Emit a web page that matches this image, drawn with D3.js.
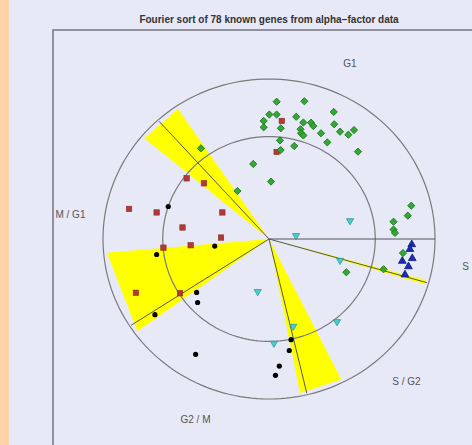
<!DOCTYPE html>
<html><head><meta charset="utf-8">
<script src="https://cdn.jsdelivr.net/npm/d3@7"></script>
<style>html,body{margin:0;padding:0;background:#e7e9f7;}svg{display:block;}</style>
</head><body>
<svg id="chart" width="472" height="445"></svg>
<script>
const title = "Fourier sort of 78 known genes from alpha\u2212factor data";
const phaseLabels = ["G1", "S", "S / G2", "G2 / M", "M / G1"];
const ringRadii = [1, 0.64];
// phase reference lines (degrees) and wedges [from, to]
const phaseLines = [0, 132, 213, 283.3, 344];
const wedges = [[124, 140], [185, 216], [281, 296.4], [343.2, 344.8]];

const g1Points = [[0.046,0.858],[0.213,0.861],[0.002,0.778],[0.046,0.778],[-0.032,0.738],[-0.032,0.698],
 [0.071,0.692],[0.164,0.764],[0.207,0.728],[0.253,0.727],[0.267,0.706],[0.190,0.686],[0.193,0.661],
 [0.207,0.647],[0.313,0.661],[0.390,0.794],[0.393,0.717],[0.428,0.671],[0.478,0.652],[0.512,0.681],
 [0.351,0.604],[0.536,0.546],[0.066,0.616],[0.070,0.556],[0.152,0.581],[-0.095,0.469],[0.012,0.359],
 [-0.410,0.567],[-0.190,0.300],[0.857,0.208],[0.836,0.146],[0.750,0.108],[0.750,0.059],[0.759,0.038],
 [0.807,-0.088],[0.690,-0.189],[0.466,-0.208]];
const mg1Points = [[0.077,0.738],[0.046,0.544],[-0.496,0.379],[-0.392,0.348],[-0.843,0.188],[-0.677,0.166],
 [-0.281,0.166],[-0.521,0.072],[-0.289,0.009],[-0.472,-0.039],[-0.636,-0.054],[-0.802,-0.336],[-0.536,-0.339]];
const g2mPoints = [[-0.607,0.203],[-0.327,-0.044],[-0.677,-0.097],[-0.436,-0.334],[-0.430,-0.397],
 [-0.687,-0.473],[-0.442,-0.721],[0.133,-0.629],[0.122,-0.697],[0.062,-0.794],[0.039,-0.852]];
const sg2Points = [[0.488,0.114],[0.163,0.021],[0.428,-0.134],[-0.068,-0.329],[0.146,-0.546],[0.410,-0.517],[0.030,-0.652]];
const sPoints = [[0.860,-0.034],[0.849,-0.064],[0.863,-0.121],[0.803,-0.138],[0.840,-0.172],[0.819,-0.223]];

const svg = d3.select("#chart");
const W = 472, H = 445;
svg.append("rect").attr("width", W).attr("height", H).attr("fill", "#e7e9f7");
svg.append("rect").attr("width", 9).attr("height", H).attr("fill", "#ffd4a6");

// plot frame
svg.append("rect").attr("x", 53).attr("y", 30).attr("width", 500).attr("height", 500)
  .attr("fill", "none").attr("stroke", "#7c7c8a").attr("stroke-width", 1.6);

svg.append("text").attr("x", 269).attr("y", 23).attr("text-anchor", "middle")
  .attr("font-family", "Liberation Sans, Arial, sans-serif").attr("font-size", 10)
  .attr("font-weight", "bold").attr("fill", "#333").text(title);

const x = d3.scaleLinear().domain([-1, 1]).range([103, 435]);
const y = d3.scaleLinear().domain([-1, 1]).range([399, 79]);
const rad = d => d * Math.PI / 180;
const pt = (a, r) => [x(r * Math.cos(rad(a))), y(r * Math.sin(rad(a)))];

// wedges
svg.append("g").selectAll("path").data(wedges).join("path")
  .attr("d", w => d3.line()([pt(0, 0), pt(w[0], 0.98), pt(w[1], 0.98)]) + "Z")
  .attr("fill", "#ffff00").attr("stroke", "none");

// rings
const ringLine = d3.line();
svg.append("g").selectAll("path").data(ringRadii).join("path")
  .attr("d", r => ringLine(d3.range(0, 361, 2).map(a => pt(a, r))) + "Z")
  .attr("fill", "none").attr("stroke", "#7a7a7a").attr("stroke-width", 1.2);

// phase lines
svg.append("g").selectAll("line").data(phaseLines).join("line")
  .attr("x1", x(0)).attr("y1", y(0))
  .attr("x2", a => pt(a, a === 0 ? 1 : 0.99)[0]).attr("y2", a => pt(a, a === 0 ? 1 : 0.99)[1])
  .attr("stroke", "#555").attr("stroke-width", 1);

// phase labels
const labelPos = [[0.488, 1.097], [1.184, -0.169], [0.828, -0.8875], [-0.443, -1.128], [-1.196, 0.153]];
svg.append("g").selectAll("text").data(phaseLabels).join("text")
  .attr("x", (d, i) => x(labelPos[i][0])).attr("y", (d, i) => y(labelPos[i][1]) + 3.5)
  .attr("text-anchor", "middle").attr("font-family", "Liberation Sans, Arial, sans-serif")
  .attr("font-size", 10).attr("fill", "#555").text(d => d);

// points
const sym = (type, size) => d3.symbol().type(type).size(size)();
const g = svg.append("g");
g.selectAll(".g2m").data(g2mPoints).join("circle")
  .attr("cx", d => x(d[0])).attr("cy", d => y(d[1])).attr("r", 2.6).attr("fill", "#000");
g.selectAll(".mg1").data(mg1Points).join("rect")
  .attr("x", d => x(d[0]) - 2.7).attr("y", d => y(d[1]) - 2.7).attr("width", 5.4).attr("height", 5.4)
  .attr("fill", "#b13a36").attr("stroke", "#8c2a26").attr("stroke-width", 0.6);
g.selectAll(".sg2").data(sg2Points).join("path")
  .attr("d", sym(d3.symbolTriangle, 22))
  .attr("transform", d => `translate(${x(d[0])},${y(d[1])}) rotate(180)`)
  .attr("fill", "#4ccccc").attr("stroke", "#2a9a9a").attr("stroke-width", 0.8);
g.selectAll(".s").data(sPoints).join("path")
  .attr("d", sym(d3.symbolTriangle, 26))
  .attr("transform", d => `translate(${x(d[0])},${y(d[1])})`)
  .attr("fill", "#1a2cb0").attr("stroke", "#101c80").attr("stroke-width", 0.8);
g.selectAll(".g1").data(g1Points).join("path")
  .attr("d", d3.line()([[0,-3.6],[3.6,0],[0,3.6],[-3.6,0]]) + "Z")
  .attr("transform", d => `translate(${x(d[0])},${y(d[1])})`)
  .attr("fill", "#34a834").attr("stroke", "#1c761c").attr("stroke-width", 0.9);
</script>
</body></html>
